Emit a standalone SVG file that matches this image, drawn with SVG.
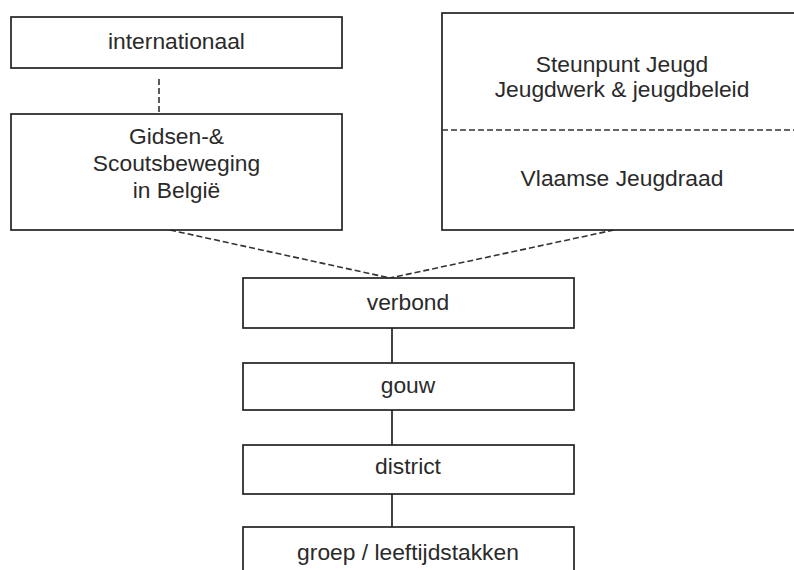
<svg xmlns="http://www.w3.org/2000/svg" width="794" height="570" viewBox="0 0 794 570">
<style>
.box{fill:#fff;stroke:#222;stroke-width:1.7}
.t{font-family:"Liberation Sans",Arial,sans-serif;font-size:22.8px;fill:#2a2a2a;text-anchor:middle}
.dash{stroke:#333;stroke-width:1.6;stroke-dasharray:6 3;fill:none}
.solid{stroke:#222;stroke-width:1.7;fill:none}
</style>
<rect width="794" height="570" fill="#fff"/>
<g id="connectors">
<line class="dash" x1="159" y1="79" x2="159" y2="112"/>
<line class="dash" x1="170" y1="230" x2="390" y2="278"/>
<line class="dash" x1="614" y1="230" x2="390" y2="278"/>
<line class="solid" x1="392" y1="328" x2="392" y2="363"/>
<line class="solid" x1="392" y1="410" x2="392" y2="445"/>
<line class="solid" x1="392" y1="494" x2="392" y2="527"/>
</g>
<g id="internationaal">
<rect class="box" x="11" y="17" width="331" height="51"/>
<text class="t" x="176.5" y="49">internationaal</text>
</g>
<g id="gidsen">
<rect class="box" x="11" y="114" width="331" height="116"/>
<text class="t" x="176.5" y="144">Gidsen-&amp;</text>
<text class="t" x="176.5" y="171">Scoutsbeweging</text>
<text class="t" x="176.5" y="198">in België</text>
</g>
<g id="steunpunt">
<rect class="box" x="442" y="13" width="362" height="217"/>
<line class="dash" x1="442" y1="130" x2="804" y2="130"/>
<text class="t" x="622" y="72">Steunpunt Jeugd</text>
<text class="t" x="622" y="97">Jeugdwerk &amp; jeugdbeleid</text>
<text class="t" x="622" y="186">Vlaamse Jeugdraad</text>
</g>
<g id="verbond">
<rect class="box" x="243" y="278" width="331" height="50"/>
<text class="t" x="408" y="310">verbond</text>
</g>
<g id="gouw">
<rect class="box" x="243" y="363" width="331" height="47"/>
<text class="t" x="408" y="393">gouw</text>
</g>
<g id="district">
<rect class="box" x="243" y="445" width="331" height="49"/>
<text class="t" x="408" y="474">district</text>
</g>
<g id="groep">
<rect class="box" x="243" y="527" width="331" height="60"/>
<text class="t" x="408" y="560">groep / leeftijdstakken</text>
</g>
</svg>
